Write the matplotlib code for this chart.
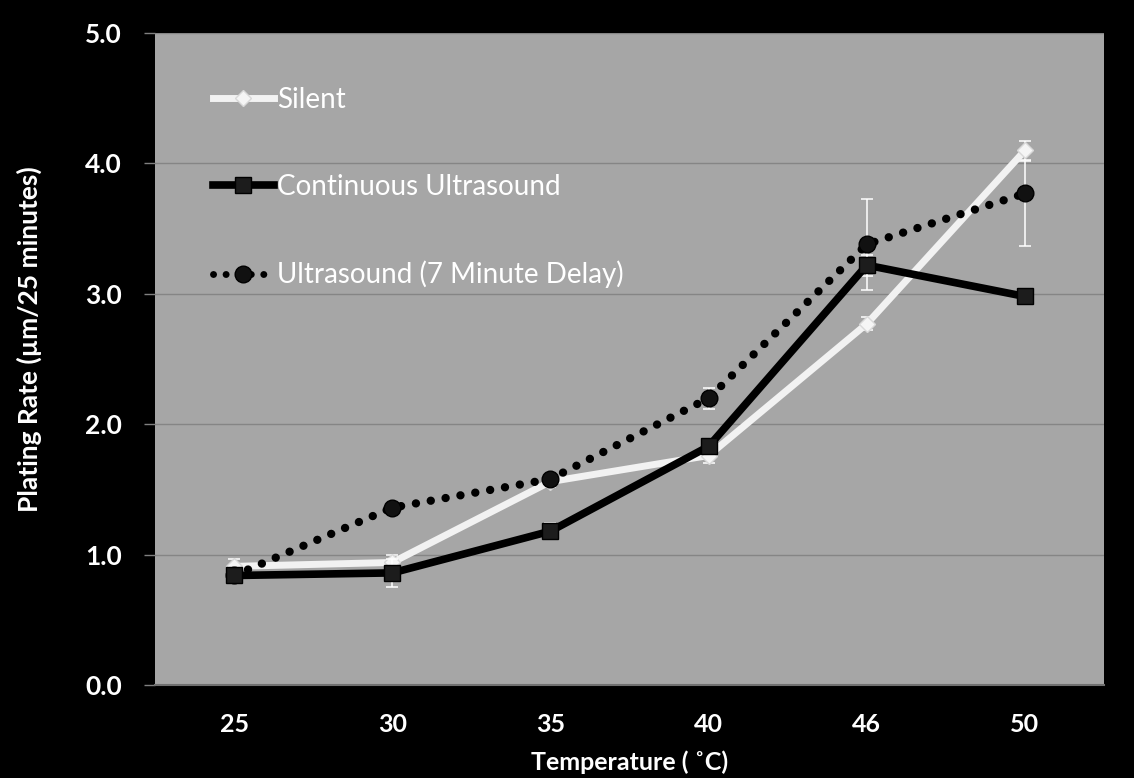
import numpy as np
import matplotlib
matplotlib.use('Agg')
import matplotlib.pyplot as plt
from matplotlib.lines import Line2D

# ---- data ----------------------------------------------------------------
temps = ["25", "30", "35", "40", "46", "50"]

silent       = [0.91, 0.94, 1.56, 1.76, 2.77, 4.10]
silent_err   = [0.06, 0.06, 0.04, 0.06, 0.05, 0.07]

continuous     = [0.84, 0.86, 1.18, 1.83, 3.22, 2.98]
continuous_err = [0.04, 0.11, 0.06, 0.05, 0.08, 0.03]

delay         = [0.84, 1.36, 1.58, 2.20, 3.38, 3.77]
delay_err_lo  = [0.03, 0.03, 0.03, 0.08, 0.35, 0.40]
delay_err_hi  = [0.03, 0.03, 0.03, 0.08, 0.35, 0.25]

labels = ["Silent", "Continuous Ultrasound", "Ultrasound (7 Minute Delay)"]

# ---- style ---------------------------------------------------------------
plt.rcParams['font.family'] = ['Lato', 'DejaVu Sans']

BG   = 'black'
AXBG = '#a6a6a6'
GRID = '#858585'
DOTS = (0, (0.01, 1.8))

fig = plt.figure(figsize=(11.34, 7.78), dpi=100, facecolor=BG)
ax = fig.add_axes([0.1367, 0.1195, 0.8369, 0.838])
ax.set_facecolor(AXBG)

x = np.arange(len(temps))
eb = dict(ecolor='white', elinewidth=1.1, capsize=4, capthick=1.1)

ax.errorbar(x, silent, yerr=silent_err, color='#f2f2f2', lw=5,
            marker='D', ms=8, mfc='#f5f5f5', mec='#d8d8d8', zorder=3, **eb)
ax.errorbar(x, delay, yerr=[delay_err_lo, delay_err_hi], color='black', lw=6,
            ls=DOTS, dash_capstyle='round',
            marker='o', ms=12, mfc='#111111', mec='black', zorder=3, **eb)
ax.errorbar(x, continuous, yerr=continuous_err, color='black', lw=5.5,
            marker='s', ms=12, mfc='#1c1c1c', mec='black', zorder=4, **eb)

ax.set_xlim(-0.5, len(temps) - 0.5)
ax.set_ylim(0, 5)
ax.set_xticks(x)
ax.set_xticklabels(temps)
yt = np.arange(0, 5.01, 1.0)
ax.set_yticks(yt)
ax.set_yticklabels([f"{v:.1f}" for v in yt])

ax.grid(axis='y', color=GRID, lw=1)
ax.set_axisbelow(True)
for s in ['top', 'right', 'left']:
    ax.spines[s].set_visible(False)
ax.spines['bottom'].set_color('#707070')
ax.spines['bottom'].set_linewidth(1.5)

ax.tick_params(axis='y', colors='#808080', length=8, width=1, pad=16,
               labelcolor='white', labelsize=19)
ax.tick_params(axis='x', length=0, pad=20, labelcolor='white', labelsize=18)
for lbl in ax.get_xticklabels() + ax.get_yticklabels():
    lbl.set_fontweight('bold')

ax.set_xlabel("Temperature ( ˚C)", color='white', fontsize=18, fontweight='bold')
ax.xaxis.set_label_coords(0.5, -0.1)
ax.set_ylabel("Plating Rate (µm/25 minutes)", color='white', fontsize=19,
              fontweight='bold')
ax.yaxis.set_label_coords(-0.119, 0.53)

# legend without error-bar glyphs
handles = [
    Line2D([], [], color='#f2f2f2', lw=5, marker='D', ms=8,
           mfc='#f5f5f5', mec='#d8d8d8'),
    Line2D([], [], color='black', lw=5.5, marker='s', ms=12,
           mfc='#1c1c1c', mec='black'),
    Line2D([], [], color='black', lw=5, ls=DOTS, dash_capstyle='round',
           marker='o', ms=12, mfc='#111111', mec='black'),
]
ax.legend(handles, labels, loc='upper left', bbox_to_anchor=(0.061, 0.918),
          frameon=False, fontsize=20, labelspacing=2.2, handlelength=2.2,
          handletextpad=0.1, borderpad=0, borderaxespad=0, labelcolor='white')

fig.savefig('out.png', dpi=100, facecolor=BG)
